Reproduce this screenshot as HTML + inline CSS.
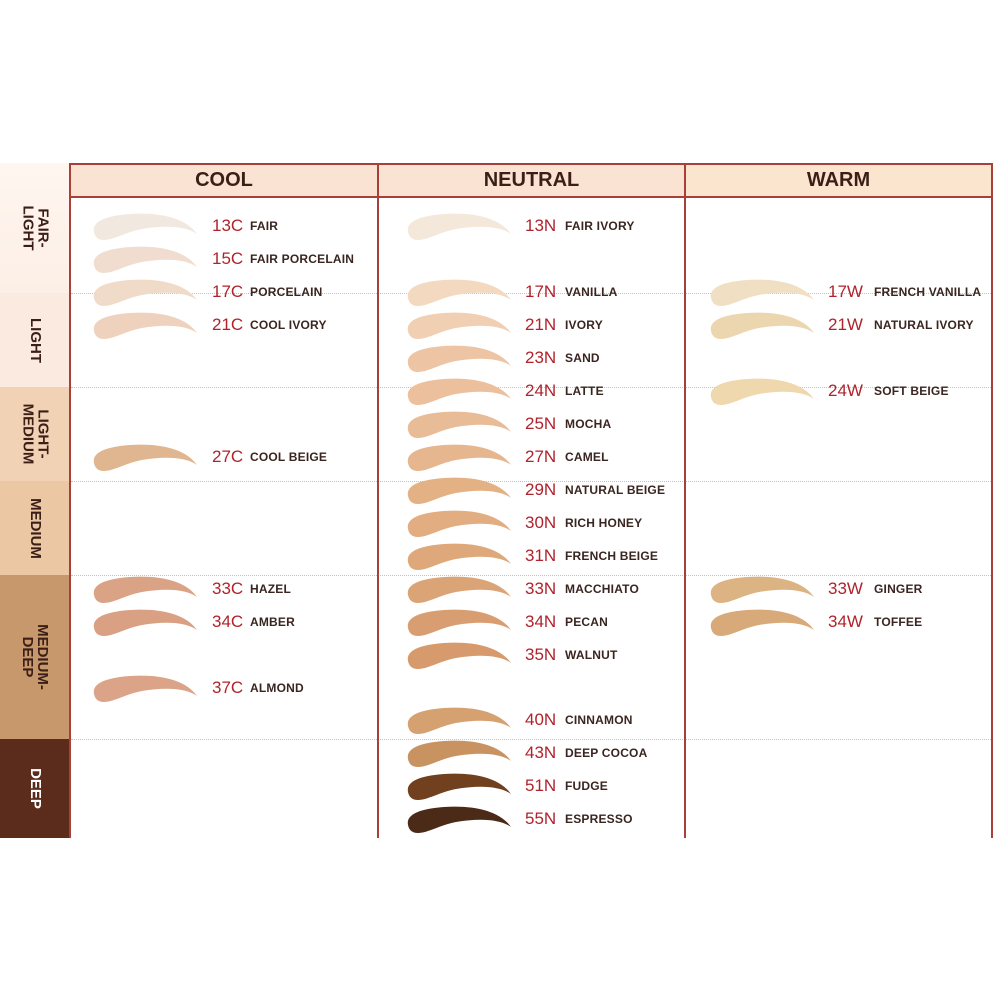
<!DOCTYPE html>
<html><head><meta charset="utf-8"><style>
body{margin:0;width:1000px;height:1000px;background:#fff;position:relative;overflow:hidden;font-family:"Liberation Sans",sans-serif}
div,svg{position:absolute}
.b{left:0;width:70px}
.bl{left:0;width:70px;display:flex;align-items:center;justify-content:center}
.bl span{transform:rotate(90deg);white-space:nowrap;font-weight:bold;font-size:15px;color:#3b1f17;text-align:center;line-height:15px}
.h{top:164px;height:33px;background:#fbe3d3;font-size:20px;font-weight:bold;color:#3b1f17;display:flex;align-items:center;justify-content:center}
.dl{left:71px;width:920px;height:0;border-top:1px dotted #c8c0bc}
.vl{top:163px;height:675px;width:2px;background:#a8403a}
.c{font-size:17px;color:#b0232c;line-height:20px}
.n{font-size:12px;color:#3a2520;line-height:20px;font-weight:bold;letter-spacing:0.2px}
svg{width:108px;height:32px}
</style></head><body>
<svg style="display:none"><defs><path id="s" d="M4,22 C2,12 14,6 40,4 C70,2 96,8 107,24 C96,16 75,15 52,19 C36,22 24,30 14,30 C8,30 5,27 4,22 Z"/></defs></svg>
<div class="b" style="top:163px;height:130px;background:linear-gradient(#fff6f0,#fcefe6)"></div>
<div class="b" style="top:293px;height:94px;background:#fbeadf"></div>
<div class="b" style="top:387px;height:94px;background:#f2d2b5"></div>
<div class="b" style="top:481px;height:94px;background:#ecc7a3"></div>
<div class="b" style="top:575px;height:164px;background:#c6986c"></div>
<div class="b" style="top:739px;height:99px;background:#5b2b1b"></div>
<div class="bl" style="top:163px;height:130px"><span>FAIR-<br>LIGHT</span></div>
<div class="bl" style="top:293px;height:94px"><span>LIGHT</span></div>
<div class="bl" style="top:387px;height:94px"><span>LIGHT-<br>MEDIUM</span></div>
<div class="bl" style="top:481px;height:94px"><span>MEDIUM</span></div>
<div class="bl" style="top:575px;height:164px"><span>MEDIUM-<br>DEEP</span></div>
<div class="bl" style="top:739px;height:99px"><span style="color:#fff">DEEP</span></div>
<div class="h" style="left:71px;width:306px">COOL</div>
<div class="h" style="left:379px;width:305px">NEUTRAL</div>
<div class="h" style="left:686px;width:305px;background:#fce5cf">WARM</div>
<div style="left:70px;top:163px;width:922px;height:0;border-top:2px solid #a8403a"></div>
<div style="left:70px;top:196px;width:922px;height:0;border-top:2px solid #a8403a"></div>
<div class="dl" style="top:293px"></div><div class="dl" style="top:387px"></div><div class="dl" style="top:481px"></div><div class="dl" style="top:575px"></div><div class="dl" style="top:739px"></div>
<div class="vl" style="left:69px"></div><div class="vl" style="left:377px"></div><div class="vl" style="left:684px"></div><div class="vl" style="left:991px"></div>

<!-- COOL -->
<svg style="left:90px;top:210px"><use href="#s" fill="#f1e8df"/></svg><div class="c" style="left:212px;top:216px">13C</div><div class="n" style="left:250px;top:216px">FAIR</div>
<svg style="left:90px;top:243px"><use href="#s" fill="#f0ddd0"/></svg><div class="c" style="left:212px;top:249px">15C</div><div class="n" style="left:250px;top:249px">FAIR PORCELAIN</div>
<svg style="left:90px;top:276px"><use href="#s" fill="#f0dbc9"/></svg><div class="c" style="left:212px;top:282px">17C</div><div class="n" style="left:250px;top:282px">PORCELAIN</div>
<svg style="left:90px;top:309px"><use href="#s" fill="#eed2be"/></svg><div class="c" style="left:212px;top:315px">21C</div><div class="n" style="left:250px;top:315px">COOL IVORY</div>
<svg style="left:90px;top:441px"><use href="#s" fill="#dfb68f"/></svg><div class="c" style="left:212px;top:447px">27C</div><div class="n" style="left:250px;top:447px">COOL BEIGE</div>
<svg style="left:90px;top:573px"><use href="#s" fill="#dba385"/></svg><div class="c" style="left:212px;top:579px">33C</div><div class="n" style="left:250px;top:579px">HAZEL</div>
<svg style="left:90px;top:606px"><use href="#s" fill="#d9a083"/></svg><div class="c" style="left:212px;top:612px">34C</div><div class="n" style="left:250px;top:612px">AMBER</div>
<svg style="left:90px;top:672px"><use href="#s" fill="#dba488"/></svg><div class="c" style="left:212px;top:678px">37C</div><div class="n" style="left:250px;top:678px">ALMOND</div>

<!-- NEUTRAL -->
<svg style="left:404px;top:210px"><use href="#s" fill="#f3e8da"/></svg><div class="c" style="left:525px;top:216px">13N</div><div class="n" style="left:565px;top:216px">FAIR IVORY</div>
<svg style="left:404px;top:276px"><use href="#s" fill="#f3d9c0"/></svg><div class="c" style="left:525px;top:282px">17N</div><div class="n" style="left:565px;top:282px">VANILLA</div>
<svg style="left:404px;top:309px"><use href="#s" fill="#f0cfb3"/></svg><div class="c" style="left:525px;top:315px">21N</div><div class="n" style="left:565px;top:315px">IVORY</div>
<svg style="left:404px;top:342px"><use href="#s" fill="#edc5a5"/></svg><div class="c" style="left:525px;top:348px">23N</div><div class="n" style="left:565px;top:348px">SAND</div>
<svg style="left:404px;top:375px"><use href="#s" fill="#ecc09d"/></svg><div class="c" style="left:525px;top:381px">24N</div><div class="n" style="left:565px;top:381px">LATTE</div>
<svg style="left:404px;top:408px"><use href="#s" fill="#e9bc98"/></svg><div class="c" style="left:525px;top:414px">25N</div><div class="n" style="left:565px;top:414px">MOCHA</div>
<svg style="left:404px;top:441px"><use href="#s" fill="#e6b68f"/></svg><div class="c" style="left:525px;top:447px">27N</div><div class="n" style="left:565px;top:447px">CAMEL</div>
<svg style="left:404px;top:474px"><use href="#s" fill="#e4b185"/></svg><div class="c" style="left:525px;top:480px">29N</div><div class="n" style="left:565px;top:480px">NATURAL BEIGE</div>
<svg style="left:404px;top:507px"><use href="#s" fill="#e2ad80"/></svg><div class="c" style="left:525px;top:513px">30N</div><div class="n" style="left:565px;top:513px">RICH HONEY</div>
<svg style="left:404px;top:540px"><use href="#s" fill="#dfa87a"/></svg><div class="c" style="left:525px;top:546px">31N</div><div class="n" style="left:565px;top:546px">FRENCH BEIGE</div>
<svg style="left:404px;top:573px"><use href="#s" fill="#dba477"/></svg><div class="c" style="left:525px;top:579px">33N</div><div class="n" style="left:565px;top:579px">MACCHIATO</div>
<svg style="left:404px;top:606px"><use href="#s" fill="#d89e71"/></svg><div class="c" style="left:525px;top:612px">34N</div><div class="n" style="left:565px;top:612px">PECAN</div>
<svg style="left:404px;top:639px"><use href="#s" fill="#d69a6c"/></svg><div class="c" style="left:525px;top:645px">35N</div><div class="n" style="left:565px;top:645px">WALNUT</div>
<svg style="left:404px;top:704px"><use href="#s" fill="#d6a170"/></svg><div class="c" style="left:525px;top:710px">40N</div><div class="n" style="left:565px;top:710px">CINNAMON</div>
<svg style="left:404px;top:737px"><use href="#s" fill="#c89361"/></svg><div class="c" style="left:525px;top:743px">43N</div><div class="n" style="left:565px;top:743px">DEEP COCOA</div>
<svg style="left:404px;top:770px"><use href="#s" fill="#70401f"/></svg><div class="c" style="left:525px;top:776px">51N</div><div class="n" style="left:565px;top:776px">FUDGE</div>
<svg style="left:404px;top:803px"><use href="#s" fill="#4b2a18"/></svg><div class="c" style="left:525px;top:809px">55N</div><div class="n" style="left:565px;top:809px">ESPRESSO</div>

<!-- WARM -->
<svg style="left:707px;top:276px"><use href="#s" fill="#f1dfc4"/></svg><div class="c" style="left:828px;top:282px">17W</div><div class="n" style="left:874px;top:282px">FRENCH VANILLA</div>
<svg style="left:707px;top:309px"><use href="#s" fill="#ecd6b0"/></svg><div class="c" style="left:828px;top:315px">21W</div><div class="n" style="left:874px;top:315px">NATURAL IVORY</div>
<svg style="left:707px;top:375px"><use href="#s" fill="#efd7ae"/></svg><div class="c" style="left:828px;top:381px">24W</div><div class="n" style="left:874px;top:381px">SOFT BEIGE</div>
<svg style="left:707px;top:573px"><use href="#s" fill="#dcb483"/></svg><div class="c" style="left:828px;top:579px">33W</div><div class="n" style="left:874px;top:579px">GINGER</div>
<svg style="left:707px;top:606px"><use href="#s" fill="#d8a979"/></svg><div class="c" style="left:828px;top:612px">34W</div><div class="n" style="left:874px;top:612px">TOFFEE</div>
</body></html>
